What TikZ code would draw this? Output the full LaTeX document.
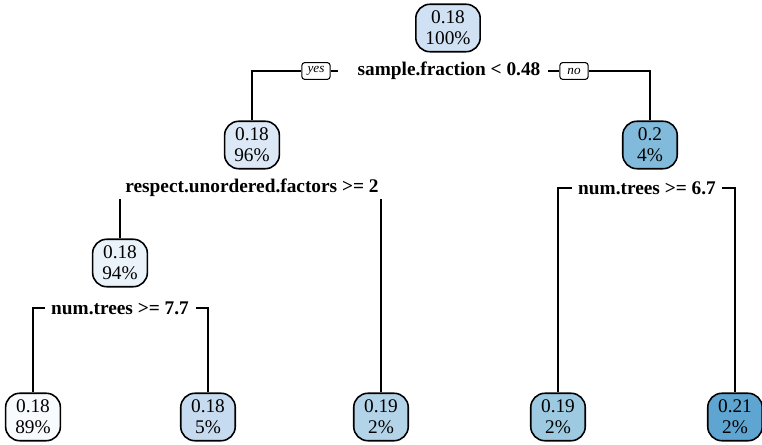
\documentclass[tikz,border=0pt]{standalone}
\usepackage{fontspec}
\setmainfont{Liberation Serif}

\definecolor{bA}{HTML}{F8FBFE}
\definecolor{bB}{HTML}{EAF2FA}
\definecolor{bC}{HTML}{DCE8F5}
\definecolor{bD}{HTML}{CFE1F2}
\definecolor{bE}{HTML}{C6DBEF}
\definecolor{bF}{HTML}{B3D3E8}
\definecolor{bG}{HTML}{9ECAE1}
\definecolor{bH}{HTML}{82BADB}
\definecolor{bI}{HTML}{5FA5D1}

\tikzset{
  box/.style={draw, line width=0.9pt, rounded corners=8pt, minimum width=31pt,
    minimum height=27pt, align=center, inner xsep=5.5pt, inner ysep=1pt,
    font=\fontsize{11}{12}\selectfont},
  splitlab/.style={font=\bfseries\fontsize{11}{12}\selectfont, inner sep=1pt},
  yn/.style={draw, line width=0.6pt, rounded corners=1.5pt, minimum width=16pt,
    minimum height=9.5pt, inner sep=1.3pt, font=\itshape\fontsize{7.5}{8}\selectfont},
  edge/.style={line width=0.9pt}
}

\begin{document}
\begin{tikzpicture}[x=0.02cm, y=-0.02cm]
 \useasboundingbox (0,0) rectangle (762,445);

 %level 1
 \node[box, fill=bD] (root) at (448,28) {0.18\\100\%};
 \node[splitlab] (s1) at (449,71) {sample.fraction < 0.48};
 \node[yn] (yes) at (316,71) {yes};
 \node[yn] (no) at (574,71) {no};

 %level 2
 \node[box, fill=bC] (n2) at (252,145) {0.18\\96\%};
 \node[box, fill=bH] (n3) at (650,145) {0.2\\4\%};
 \node[splitlab] (s2) at (252,188) {respect.unordered.factors >= 2};
 \node[splitlab] (s4) at (647,188) {num.trees >= 6.7};

 %level 3
 \node[box, fill=bB] (n4) at (120,263) {0.18\\94\%};
 \node[splitlab] (s3) at (120,308) {num.trees >= 7.7};

 %leaves
 \foreach \name/\x/\val/\pct/\col in {l1/33/0.18/89/bA, l2/208/0.18/5/bE,
     l3/381/0.19/2/bF, l4/558/0.19/2/bG, l5/735/0.21/2/bI} {
   \node[box, fill=\col] (\name) at (\x,417) {\val\\\pct\%};
 }

 %split ends
 \coordinate (s1a) at (338,71);
 \coordinate (s1b) at (548,71);
 \coordinate (s3a) at (45,308);
 \coordinate (s3b) at (196,308);
 \coordinate (s4a) at (572,188);
 \coordinate (s4b) at (722,188);

 %edges
 \draw[edge] (n2.north) |- (yes.west);
 \draw[edge] (yes.east) -- (s1a);
 \draw[edge] (s1b) -- (no.west);
 \draw[edge] (no.east) -| (n3.north);

 \draw[edge] (n4.north) -- (n4.north |- s2.south);
 \draw[edge] (l3.north) -- (l3.north |- s2.south);

 \draw[edge] (s3a) -| (l1.north);
 \draw[edge] (s3b) -| (l2.north);

 \draw[edge] (s4a) -| (l4.north);
 \draw[edge] (s4b) -| (l5.north);

\end{tikzpicture}
\end{document}
